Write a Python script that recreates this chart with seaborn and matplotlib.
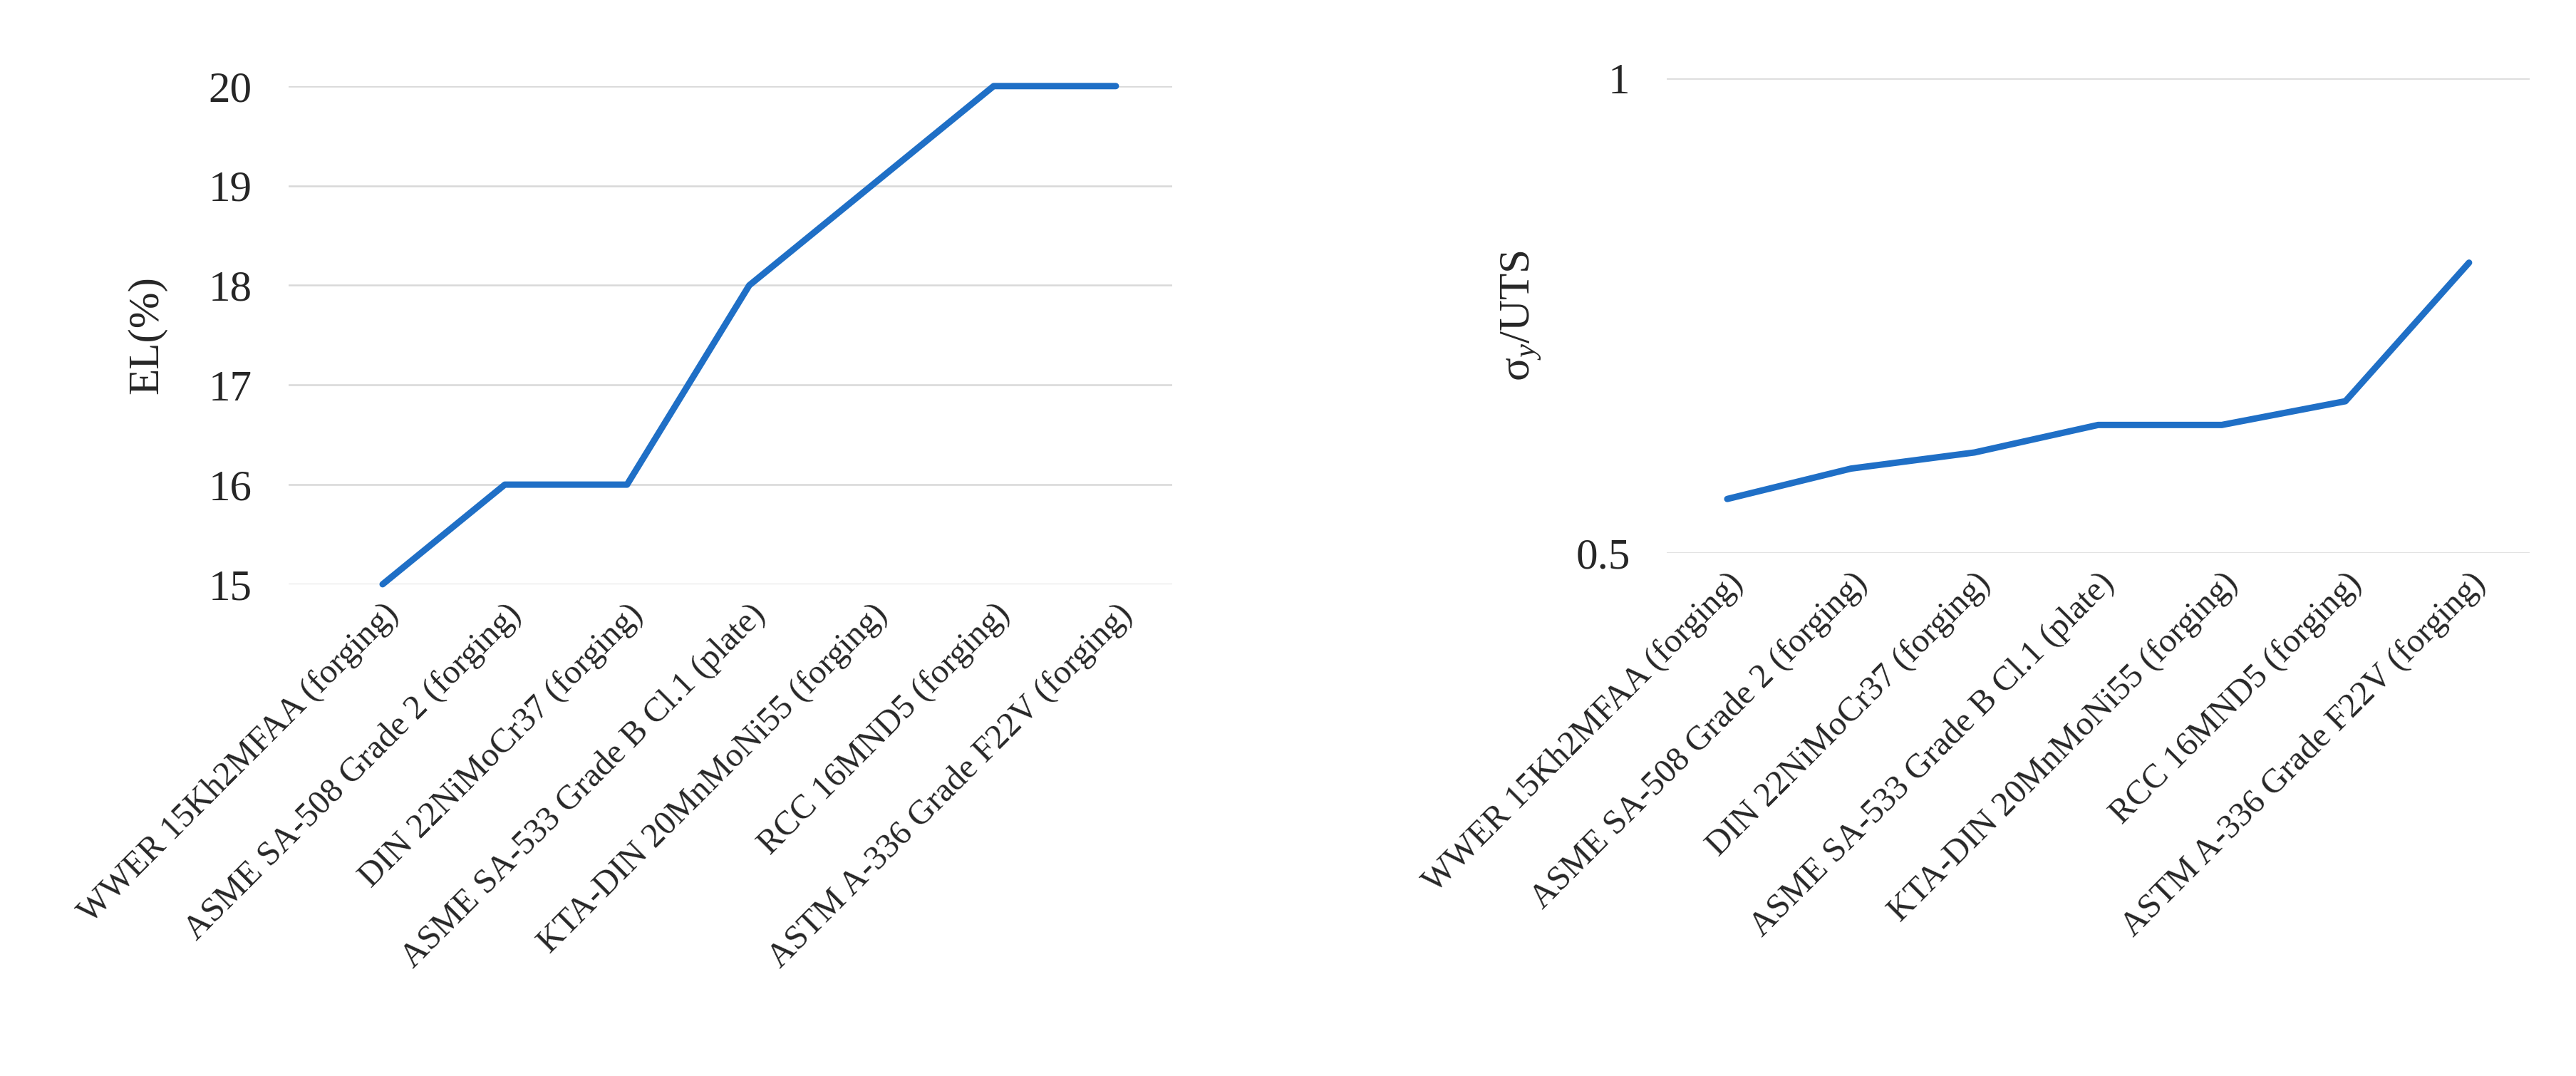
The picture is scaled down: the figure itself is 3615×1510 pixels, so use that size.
import numpy as np
import pandas as pd
import matplotlib
matplotlib.use("Agg")
import matplotlib.pyplot as plt
import seaborn as sns

materials = ["WWER 15Kh2MFAA (forging)", "ASME SA-508 Grade 2 (forging)",
             "DIN 22NiMoCr37 (forging)", "ASME SA-533 Grade B Cl.1 (plate)",
             "KTA-DIN 20MnMoNi55 (forging)", "RCC 16MND5 (forging)",
             "ASTM A-336 Grade F22V (forging)"]
el_pct = [15, 16, 16, 18, 19, 20, 20]
ys_uts = [0.557, 0.589, 0.606, 0.635, 0.635, 0.66, 0.806]

sns.set_style("white")
plt.rcParams['font.family'] = ['Liberation Serif', 'DejaVu Serif']
plt.rcParams['mathtext.fontset'] = 'custom'
plt.rcParams['mathtext.it'] = 'Liberation Serif:italic'
plt.rcParams['mathtext.rm'] = 'Liberation Serif'

fig = plt.figure(figsize=(3615 / 231, 1510 / 231), dpi=231)
ax1 = fig.add_axes([0.112, 0.457, 0.343, 0.463])
ax2 = fig.add_axes([0.647, 0.486, 0.335, 0.441])

df = pd.DataFrame({"x": np.arange(len(materials)), "el": el_pct, "r": ys_uts})
color = "#1f6fc6"

sns.lineplot(data=df, x="x", y="el", ax=ax1, color=color, lw=2.8, clip_on=False)
ax1.set_ylim(15, 20)
ax1.set_yticks([15, 16, 17, 18, 19, 20])
ax1.set_xlim(-0.77, 6.46)
ax1.set_ylabel("EL(%)", fontsize=19, labelpad=18)

sns.lineplot(data=df, x="x", y="r", ax=ax2, color=color, lw=2.8, clip_on=False)
ax2.set_ylim(0.5, 1)
ax2.set_yticks([0.5, 1])
ax2.set_yticklabels(["0.5", "1"])
ax2.set_xlim(-0.49, 6.49)
ax2.set_ylabel(r"σ$_y$/UTS", fontsize=19, labelpad=14)

for ax in (ax1, ax2):
    ax.set_xlabel("")
    ax.set_xticks(range(len(materials)))
    ax.set_xticklabels(materials, rotation=45, ha="right", rotation_mode="anchor", fontsize=15)
    ax.tick_params(axis="y", labelsize=19, length=0, pad=16)
    ax.tick_params(axis="x", length=0, pad=6)
    ax.grid(axis="y", color="#d9d9d9", lw=0.8)
    sns.despine(ax=ax, left=True, bottom=True)

fig.savefig("out.png", dpi=231)
